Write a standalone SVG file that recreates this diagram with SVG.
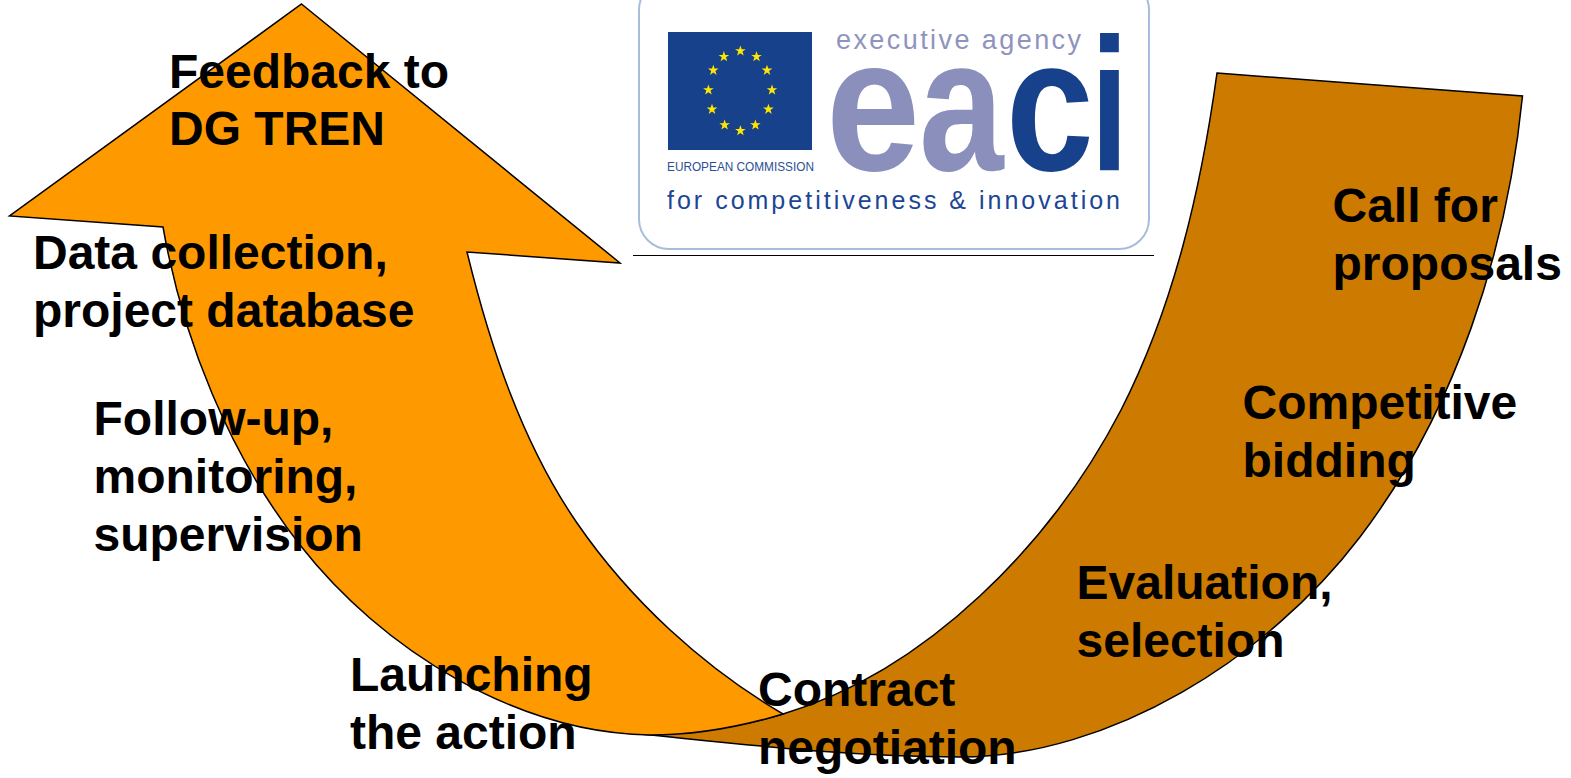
<svg xmlns="http://www.w3.org/2000/svg" width="1571" height="778" viewBox="0 0 1571 778">
<style>
.lbl{font-family:"Liberation Sans",Arial,sans-serif;font-weight:700;font-size:48px;fill:#000}
.arrow{stroke:#000;stroke-width:1.5;stroke-linejoin:miter}
.big{font-family:"Liberation Sans",Arial,sans-serif;font-weight:700;font-size:190px}
.lt{font-family:"Liberation Sans",Arial,sans-serif}
</style>
<defs><polygon id="s" points="0,-5.6 1.3,-1.8 5.3,-1.8 2.1,0.6 3.3,4.6 0,2.2 -3.3,4.6 -2.1,0.6 -5.3,-1.8 -1.3,-1.8" fill="#ffe600"/></defs>
<rect width="1571" height="778" fill="#fff"/>
<g id="logo">
<rect x="639" y="-20" width="510" height="269" rx="30" fill="#fff" stroke="#a6bedc" stroke-width="2"/>
<line x1="633" y1="255.5" x2="1154" y2="255.5" stroke="#000" stroke-width="1"/>
<rect x="668" y="32" width="144" height="118" fill="#17418a"/>
<use href="#s" x="740.4" y="51"/><use href="#s" x="723.9" y="56.7"/><use href="#s" x="756.5" y="56.7"/>
<use href="#s" x="713.3" y="70.3"/><use href="#s" x="767" y="70.3"/><use href="#s" x="708.4" y="90"/><use href="#s" x="772" y="90"/>
<use href="#s" x="712" y="109.3"/><use href="#s" x="768.4" y="109.3"/><use href="#s" x="724.6" y="125"/><use href="#s" x="755.4" y="125"/><use href="#s" x="740.4" y="130.7"/>
<text class="lt" x="667" y="170.5" font-size="13.5" fill="#2a4f96" textLength="147" lengthAdjust="spacingAndGlyphs">EUROPEAN COMMISSION</text>
<text class="lt" x="836" y="49" font-size="27" fill="#8f93bd" textLength="245" lengthAdjust="spacing">executive agency</text>
<text class="big" transform="translate(826 170) scale(.89 1)" fill="#8b8fbb">e</text>
<text class="big" transform="translate(919 170) scale(.8 1)" fill="#8b8fbb">a</text>
<text class="big" transform="translate(1006 170) scale(.83 1)" fill="#17418a">c</text>
<text class="big" transform="translate(1090.5 170) scale(.72 1)" fill="#17418a">i</text>
<text class="lt" x="667" y="209" font-size="25" fill="#1c4595" textLength="453" lengthAdjust="spacing">for competitiveness &amp; innovation</text>
</g>
<g id="connectors">
<path id="arrow-selection" class="arrow" fill="#cc7a00" d="M1217 73L1522.5 96C1507 252 1455 412 1360 537C1268 658 1110 757 960 757C850 757 750 745 640 734C695 735 740 727 783 714C927 671 1052 543 1121 410C1174 306 1201 189 1217 73Z"/>
<path id="arrow-followup" class="arrow" fill="#ff9900" d="M301.5 4L620 263L467 252C490 346 522 443 577 523C630 600 703 667 783 714C740 727 695 735 650 735C517 733 382 650 300 545C229 454 183 340 163 227L9.5 216Z"/>
</g>
<g id="n1"><text class="lbl" x="1332.5" y="221.5">Call for</text><text class="lbl" x="1332.5" y="279.5">proposals</text></g>
<g id="n2"><text class="lbl" x="1242.5" y="419">Competitive</text><text class="lbl" x="1242.5" y="477">bidding</text></g>
<g id="n3"><text class="lbl" x="1076.5" y="599">Evaluation,</text><text class="lbl" x="1076.5" y="657">selection</text></g>
<g id="n4"><text class="lbl" x="758" y="705.5">Contract</text><text class="lbl" x="758" y="763.5">negotiation</text></g>
<g id="n5"><text class="lbl" x="350" y="690.5">Launching</text><text class="lbl" x="350" y="748.5">the action</text></g>
<g id="n6"><text class="lbl" x="93.5" y="434.5">Follow-up,</text><text class="lbl" x="93.5" y="492.5">monitoring,</text><text class="lbl" x="93.5" y="550.5">supervision</text></g>
<g id="n7"><text class="lbl" x="33" y="268.5">Data collection,</text><text class="lbl" x="33" y="326.5">project database</text></g>
<g id="n8"><text class="lbl" x="169" y="88">Feedback to</text><text class="lbl" x="169" y="145">DG TREN</text></g>
</svg>
